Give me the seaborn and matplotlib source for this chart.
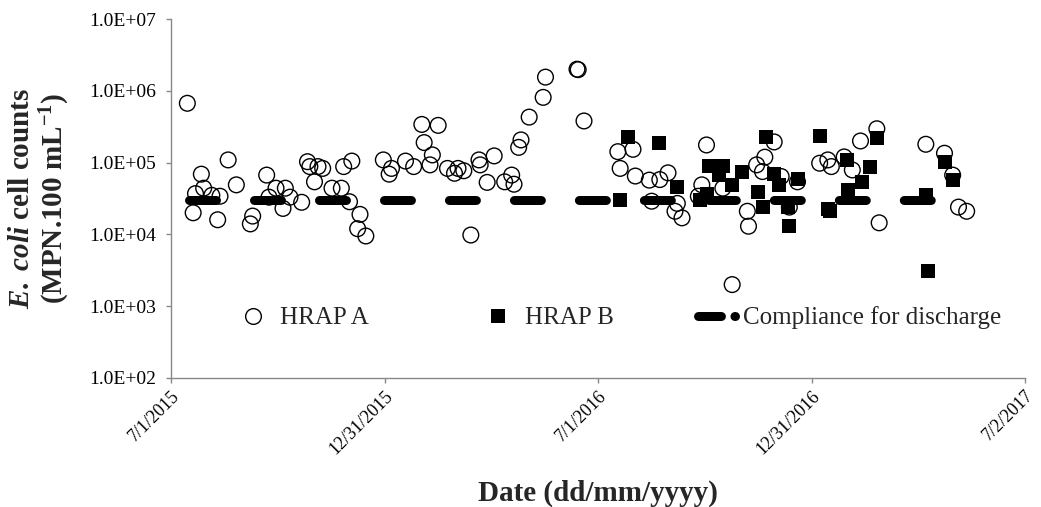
import numpy as np
import pandas as pd
import matplotlib
matplotlib.use("Agg")
import matplotlib.pyplot as plt
from matplotlib.lines import Line2D
from matplotlib.ticker import NullLocator
import seaborn as sns

# ---------------- data ----------------
hrap_a_dates = [
    "2015-07-15", "2015-07-20", "2015-07-22", "2015-07-27", "2015-07-29", "2015-08-05",
    "2015-08-10", "2015-08-12", "2015-08-19", "2015-08-26", "2015-09-07", "2015-09-09",
    "2015-09-21", "2015-09-23", "2015-09-29", "2015-10-05", "2015-10-07", "2015-10-11",
    "2015-10-21", "2015-10-26", "2015-10-28", "2015-11-01", "2015-11-04", "2015-11-08",
    "2015-11-16", "2015-11-24", "2015-11-26", "2015-12-01", "2015-12-03", "2015-12-08",
    "2015-12-10", "2015-12-15", "2015-12-30", "2016-01-04", "2016-01-06", "2016-01-18",
    "2016-01-25", "2016-02-01", "2016-02-03", "2016-02-08", "2016-02-10", "2016-02-15",
    "2016-02-23", "2016-02-29", "2016-03-03", "2016-03-08", "2016-03-14", "2016-03-21",
    "2016-03-22", "2016-03-28", "2016-04-03", "2016-04-12", "2016-04-18", "2016-04-20",
    "2016-04-24", "2016-04-26", "2016-05-03", "2016-05-15", "2016-05-17", "2016-06-13",
    "2016-06-14", "2016-06-19", "2016-07-18", "2016-07-20", "2016-07-31", "2016-08-02",
    "2016-08-14", "2016-08-16", "2016-08-23", "2016-08-30", "2016-09-05", "2016-09-07",
    "2016-09-11", "2016-09-25", "2016-09-28", "2016-10-02", "2016-10-16", "2016-10-24",
    "2016-11-06", "2016-11-07", "2016-11-14", "2016-11-19", "2016-11-21", "2016-11-29",
    "2016-12-05", "2016-12-12", "2016-12-19", "2017-01-07", "2017-01-14", "2017-01-17",
    "2017-01-28", "2017-02-04", "2017-02-11", "2017-02-25", "2017-02-27", "2017-04-08",
    "2017-04-24", "2017-05-01", "2017-05-06", "2017-05-13",
]
hrap_a_counts = [
    6.7e5, 2.0e4, 3.7e4, 6.9e4, 4.4e4, 3.5e4,
    1.6e4, 3.4e4, 1.09e5, 4.9e4, 1.4e4, 1.8e4,
    6.7e4, 3.3e4, 4.4e4, 2.3e4, 4.4e4, 3.3e4,
    2.8e4, 1.03e5, 8.8e4, 5.4e4, 8.8e4, 8.3e4,
    4.4e4, 4.4e4, 8.8e4, 2.85e4, 1.05e5, 1.2e4,
    1.9e4, 9.5e3, 1.09e5, 6.9e4, 8.3e4, 1.05e5,
    8.8e4, 3.4e5, 1.9e5, 9.3e4, 1.28e5, 3.3e5,
    8.3e4, 7.1e4, 8.3e4, 7.7e4, 9.8e3, 1.09e5,
    9.3e4, 5.3e4, 1.24e5, 5.4e4, 6.7e4, 5.0e4,
    1.63e5, 2.07e5, 4.3e5, 8.1e5, 1.55e6, 2.0e6,
    1.97e6, 3.8e5, 1.42e5, 8.3e4, 1.53e5, 6.5e4,
    5.7e4, 2.9e4, 5.8e4, 7.2e4, 2.1e4, 2.7e4,
    1.7e4, 3.4e4, 4.9e4, 1.76e5, 4.4e4, 2.0e3,
    2.1e4, 1.3e4, 9.3e4, 7.5e4, 1.19e5, 1.94e5,
    6.4e4, 2.4e4, 5.4e4, 9.8e4, 1.09e5, 8.8e4,
    1.2e5, 7.9e4, 2.0e5, 2.96e5, 1.45e4, 1.8e5,
    1.35e5, 6.7e4, 2.4e4, 2.1e4,
]
hrap_b_dates = [
    "2016-07-20", "2016-07-27", "2016-08-22", "2016-09-07", "2016-09-26", "2016-10-02",
    "2016-10-04", "2016-10-13", "2016-10-16", "2016-10-24", "2016-11-01", "2016-11-15",
    "2016-11-19", "2016-11-22", "2016-11-29", "2016-12-03", "2016-12-11", "2016-12-12",
    "2016-12-19", "2017-01-07", "2017-01-14", "2017-01-16", "2017-01-30", "2017-01-31",
    "2017-02-12", "2017-02-19", "2017-02-25", "2017-04-08", "2017-04-10", "2017-04-24",
    "2017-05-01",
]
hrap_b_counts = [
    3.0e4, 2.25e5, 1.9e5, 4.5e4, 3.0e4, 3.7e4,
    9.0e4, 6.7e4, 9.0e4, 4.8e4, 7.5e4, 3.9e4,
    2.4e4, 2.3e5, 7.0e4, 4.8e4, 2.4e4, 1.33e4,
    5.9e4, 2.35e5, 2.25e4, 2.1e4, 1.09e5, 4.2e4,
    5.4e4, 8.6e4, 2.18e5, 3.5e4, 3.1e3, 1.03e5,
    5.7e4,
]
compliance_dates = ["2015-07-16", "2017-04-13"]
compliance_counts = [3.0e4, 3.0e4]

x_tick_dates = ["2015-07-01", "2015-12-31", "2016-07-01", "2016-12-31", "2017-07-02"]
x_tick_labels = ["7/1/2015", "12/31/2015", "7/1/2016", "12/31/2016", "7/2/2017"]
y_ticks = [1e2, 1e3, 1e4, 1e5, 1e6, 1e7]
y_tick_labels = ["1.0E+02", "1.0E+03", "1.0E+04", "1.0E+05", "1.0E+06", "1.0E+07"]
legend_labels = ["HRAP A", "HRAP B", "Compliance for discharge"]

# ---------------- style ----------------
sns.set_theme(style="white")
plt.rcParams["font.family"] = ["Liberation Serif", "DejaVu Serif"]
plt.rcParams["mathtext.fontset"] = "custom"
plt.rcParams["mathtext.rm"] = "Liberation Serif:bold"
plt.rcParams["mathtext.it"] = "Liberation Serif:italic:bold"
plt.rcParams["mathtext.bf"] = "Liberation Serif:bold"

W, H = 1041, 507
fig = plt.figure(figsize=(W / 100, H / 100), dpi=100)
ax = fig.add_axes([171 / W, 1 - 378 / H, (1025 - 171) / W, (378 - 19) / H])

df_a = pd.DataFrame({"date": pd.to_datetime(hrap_a_dates), "count": hrap_a_counts})
df_b = pd.DataFrame({"date": pd.to_datetime(hrap_b_dates), "count": hrap_b_counts})
df_c = pd.DataFrame({"date": pd.to_datetime(compliance_dates), "count": compliance_counts})

LW_C = 6.48
sns.lineplot(data=df_c, x="date", y="count", ax=ax, color="black", linewidth=LW_C,
             legend=False, zorder=1)
cline = ax.lines[-1]
cline.set_dashes((3.0, 4.22))
cline.set_dash_capstyle("round")

sns.scatterplot(data=df_a, x="date", y="count", ax=ax, marker="o", s=11.3 ** 2,
                facecolor="none", edgecolor="black", linewidth=1.0, legend=False, zorder=3)
sns.scatterplot(data=df_b, x="date", y="count", ax=ax, marker="s", s=10.3 ** 2,
                color="black", edgecolor="black", linewidth=0, legend=False, zorder=2)

ax.set_yscale("log")
ax.set_ylim(1e2, 1e7)
ax.set_xlim(pd.Timestamp("2015-07-01"), pd.Timestamp("2017-07-02"))
ax.set_yticks(y_ticks)
ax.set_yticklabels(y_tick_labels)
ax.yaxis.set_minor_locator(NullLocator())
ax.set_xticks(pd.to_datetime(x_tick_dates))
ax.set_xticklabels(x_tick_labels, rotation=45, ha="right", rotation_mode="anchor")
ax.xaxis.set_minor_locator(NullLocator())
ax.set_xlabel("")
ax.set_ylabel("")

grey = "#898989"
for s in ["top", "right"]:
    ax.spines[s].set_visible(False)
for s in ["left", "bottom"]:
    ax.spines[s].set_color(grey)
    ax.spines[s].set_linewidth(1.0)
ax.tick_params(axis="both", which="major", left=True, bottom=True, length=3.6, width=1.0,
               color=grey, labelcolor="black", direction="out")
ax.tick_params(axis="y", pad=7, labelsize=14)
ax.tick_params(axis="x", pad=3, labelsize=13)

# axis titles
fig.text(598 / W, 1 - 493 / H, "Date (dd/mm/yyyy)", ha="center", va="center",
         fontsize=21, fontweight="bold")
fig.text(22 / W, 1 - 198 / H, r"$\mathit{E.}$ $\mathit{coli}$ cell counts", rotation=90,
         ha="center", va="center", fontsize=21, fontweight="bold")
fig.text(55 / W, 1 - 198 / H, r"(MPN.100 mL$^{-1}$)", rotation=90,
         ha="center", va="center", fontsize=21, fontweight="bold")

# legend: one entry per legend box, placed like the original
h1 = Line2D([], [], ls="none", marker="o", markersize=11.3, markerfacecolor="none",
            markeredgecolor="black", markeredgewidth=1.0)
h2 = Line2D([], [], ls="none", marker="s", markersize=10.3, color="black", markeredgewidth=0)
h3 = Line2D([], [], color="black", linewidth=LW_C, dash_capstyle="round", dashes=(2.55, 1.5))
leg_fs = 18
em = leg_fs * 100 / 72
lefts = [234.5, 479.5, 697.5]
legs = []
for h, lab, lx in zip([h1, h2, h3], legend_labels, lefts):
    lg = ax.legend([h], [lab], loc="center left",
                   bbox_to_anchor=((lx - 171) / 854, (378 - 318) / 359),
                   frameon=False, fontsize=leg_fs, numpoints=1,
                   handlelength=37 / em, handletextpad=8.5 / em,
                   borderpad=0, borderaxespad=0)
    legs.append(lg)
for lg in legs[:-1]:
    ax.add_artist(lg)

fig.savefig("out.png", dpi=100)
